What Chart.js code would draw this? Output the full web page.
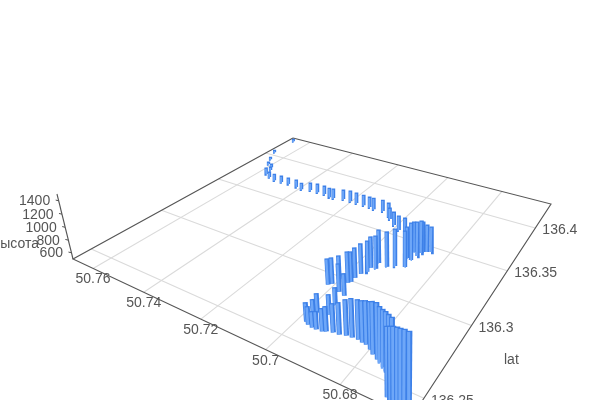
<!DOCTYPE html><html><head><meta charset="utf-8">
<script src="https://cdn.jsdelivr.net/npm/chart.js@4"></script>
<style>html,body{margin:0;padding:0;background:#fff}canvas{display:block}</style></head><body>
<canvas id="c" width="600" height="400"></canvas>
<script>
const lonTicks=[50.76,50.74,50.72,50.7,50.68];
const latTicks=[136.4,136.35,136.3,136.25];
const altTicks=[600,800,1000,1200,1400];
const lon=[50.7664,50.7661,50.7634,50.7613,50.7587,50.7574,50.7566,50.7541,50.7511,50.7481,50.7451,50.7414,50.7390,50.7360,50.7331,50.7303,50.7277,50.7262,50.7230,50.7203,50.7179,50.7152,50.7129,50.7111,50.7080,50.7049,
50.7037,50.7009,50.6983,50.6959,50.6894,50.6880,50.6891,50.6874,50.6871,50.6869,50.6859,50.6849,50.6879,50.6904,50.6921,50.6949,50.6942,50.6956,50.6954,50.6965,50.6969,50.6969,50.6974,50.7008,50.7007,50.7014,
50.6973,50.6953,50.6953,50.6945,50.6974,50.6974,50.6977,50.6967,50.6953,50.6941,50.6925,50.6917,50.6901,50.6885,50.6869,50.6854,50.6838,50.6825,50.6814,50.6798,50.6785,50.6769,50.6759,50.6746,50.6735,50.6724,
50.6713,50.6698,50.6689,50.6680,50.6670,50.6661,50.6652,50.6640];
const lat=[136.4288,136.4048,136.3936,136.3863,136.3835,136.3794,136.3730,136.3705,136.3687,136.3689,136.3690,136.3683,136.3677,136.3697,136.3698,136.3699,136.3682,136.3685,136.3707,136.3708,136.3706,136.3707,136.3705,136.3696,136.3704,136.3670,
136.3642,136.3594,136.3560,136.3549,136.3330,136.3325,136.3401,136.3375,136.3413,136.3427,136.3438,136.3450,136.3251,136.3231,136.3202,136.3211,136.3156,136.3150,136.3111,136.3078,136.3032,136.2993,136.2978,136.2997,136.2929,136.2912,
136.2893,136.2880,136.2800,136.2724,136.2707,136.2674,136.2628,136.2616,136.2609,136.2608,136.2611,136.2620,136.2631,136.2634,136.2645,136.2648,136.2651,136.2644,136.2642,136.2625,136.2605,136.2589,136.2580,136.2562,136.2548,136.2535,
136.2523,136.2430,136.2423,136.2416,136.2411,136.2404,136.2403,136.2394];
const alt=[543,542,541,540,560,559,617,597,615,614,614,632,612,631,649,648,665,665,664,682,681,680,679,696,695,728,
692,724,738,753,992,1083,982,1041,1013,982,935,904,1060,1076,1045,1018,1012,983,979,963,959,956,970,824,895,894,
919,829,751,790,777,747,773,758,729,756,825,853,907,947,1001,1040,1052,1076,1101,1149,1210,1256,1240,1261,1282,1291,
1299,1390,1422,1454,1474,1494,1503,1522];

// camera: floor corners on screen, and the vanishing point of the vertical
const B=[293,138],C=[551,204],Dn=[411,418],A=[73,259],VP=[400,1587];
const lonMax=50.7686,lonRange=0.1053,latMax=136.4337,latRange=0.195,altMin=500,altMax=1500;
const dx1=C[0]-Dn[0],dy1=C[1]-Dn[1],dx2=A[0]-Dn[0],dy2=A[1]-Dn[1],dx3=B[0]-C[0]+Dn[0]-A[0],dy3=B[1]-C[1]+Dn[1]-A[1];
const den=dx1*dy2-dx2*dy1,g=(dx3*dy2-dx2*dy3)/den,h=(dx1*dy3-dx3*dy1)/den;
const a=C[0]-B[0]+g*C[0],b=A[0]-B[0]+h*A[0],c=B[0],d=C[1]-B[1]+g*C[1],e=A[1]-B[1]+h*A[1],f=B[1];
const k=65*(1+h)/(194-VP[1]);
function weight(lo,la){const s=(lonMax-lo)/lonRange,t=(latMax-la)/latRange;return g*s+h*t+1;}
function project(lo,la,al){
  const s=(lonMax-lo)/lonRange,t=(latMax-la)/latRange,z=(al-altMin)/(altMax-altMin);
  const w=g*s+h*t+1+k*z;
  return {x:(a*s+b*t+c+VP[0]*k*z)/w,y:(d*s+e*t+f+VP[1]*k*z)/w};
}
const lonEdge=[lonMax,lonMax-lonRange],latEdge=[latMax,latMax-latRange];
const layers=[];
function line(pts,color,width){layers.push({data:pts,borderColor:color,borderWidth:width,pointRadius:0,showLine:true,fill:false,tension:0,borderCapStyle:'butt',borderJoinStyle:'miter',parsing:false,normalized:true});}
// floor grid
lonTicks.forEach(v=>line([project(v,latEdge[0],altMin),project(v,latEdge[1],altMin)],'#dadada',1.1));
latTicks.forEach(v=>line([project(lonEdge[0],v,altMin),project(lonEdge[1],v,altMin)],'#dadada',1.1));
// axes
const corner=[[0,0],[1,0],[1,1],[0,1],[0,0]].map(p=>project(lonEdge[p[0]],latEdge[p[1]],altMin));
line(corner,'#555555',1.1);
line([project(lonEdge[0],latEdge[1],altMin),project(lonEdge[0],latEdge[1],altMax)],'#555555',1.1);
altTicks.forEach(v=>{const p=project(lonEdge[0],latEdge[1],v);line([p,{x:p.x-3,y:p.y-0.7}],'#555555',1);});
// bars, far to near
lon.map((_,i)=>i).sort((i,j)=>weight(lon[j],lat[j])-weight(lon[i],lat[i])).forEach(i=>{
  const w=weight(lon[i],lat[i]),size=3/w,p0=project(lon[i],lat[i],altMin),p1=project(lon[i],lat[i],alt[i]);
  const up={x:p1.x,y:p1.y-0.5};
  line([p0,up],'#3d80e8',size);
  const off=-size*0.1;
  line([{x:p0.x+off,y:p0.y},{x:p1.x+off,y:p1.y+0.8}],'#6ea7f8',size*0.5);
});
const textPlugin={id:'axisText',afterDatasetsDraw(ch){
  const X=ch.scales.x,Y=ch.scales.y,cx=ch.ctx;
  const px=p=>({x:X.getPixelForValue(p.x),y:Y.getPixelForValue(p.y)});
  cx.save();cx.fillStyle='#555';cx.font='14px "Liberation Sans"';cx.textBaseline='middle';
  cx.textAlign='center';
  lonTicks.forEach(v=>{const p=px(project(v,latEdge[1],altMin));cx.fillText(String(v),p.x,p.y+11);});
  cx.textAlign='left';
  latTicks.forEach(v=>{const p=px(project(lonEdge[1],v,altMin));cx.fillText(String(v),p.x+7,p.y+2.5);});
  cx.fillText('lat',504,360);
  cx.textAlign='right';
  altTicks.forEach(v=>{const p=px(project(lonEdge[0],latEdge[1],v));cx.fillText(String(v),p.x-8.5,p.y+0.5);});
  cx.fillText('высота',39,244);
  cx.restore();
}};
new Chart(document.getElementById('c'),{type:'scatter',plugins:[textPlugin],
  data:{datasets:layers.reverse()},
  options:{responsive:false,animation:false,layout:{padding:0},events:[],
    plugins:{legend:{display:false},tooltip:{enabled:false},title:{display:false}},
    scales:{x:{type:'linear',min:0,max:600,display:false},y:{type:'linear',min:0,max:400,reverse:true,display:false}}}});
</script></body></html>
